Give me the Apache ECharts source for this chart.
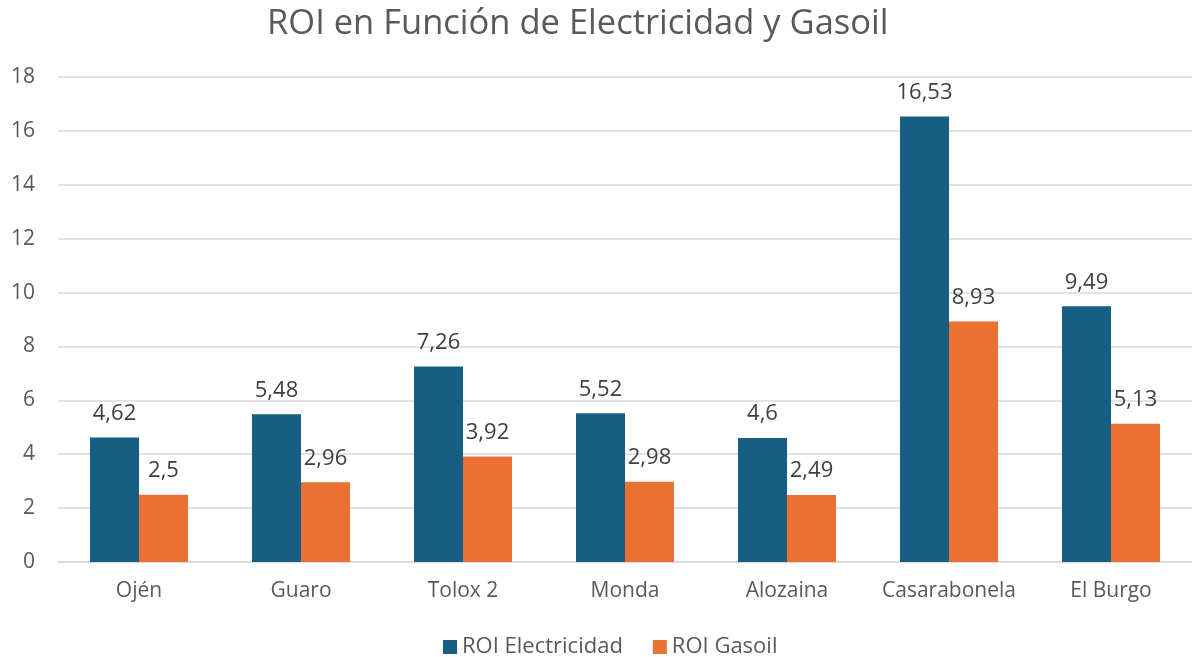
<!DOCTYPE html>
<html><head><meta charset="utf-8">
<script src="https://cdn.jsdelivr.net/npm/echarts@6/dist/echarts.min.js"></script>
<style>html,body{margin:0;padding:0;background:#fff}#c{width:1192px;height:657px}</style>
</head><body><div id="c"></div>
<script>
const categories = ['Ojén','Guaro','Tolox 2','Monda','Alozaina','Casarabonela','El Burgo'];
const roiElectricidad = [4.62,5.48,7.26,5.52,4.6,16.53,9.49];
const roiGasoil = [2.5,2.96,3.92,2.98,2.49,8.93,5.13];
const seriesNames = ['ROI Electricidad','ROI Gasoil'];
const FONT = '"Open Sans", "Noto Sans", sans-serif';
const fmt = v => String(v.value).replace('.', ',');
const chart = echarts.init(document.getElementById('c'));
chart.setOption({
  animation:false,
  textStyle:{fontFamily:FONT},
  title:{text:'ROI en Función de Electricidad y Gasoil',left:262,top:2,
    textStyle:{fontFamily:FONT,fontSize:34.5,fontWeight:'normal',color:'#595959'}},
  legend:{top:631,left:438,itemWidth:14,itemHeight:14,itemGap:30,icon:'rect',
    textStyle:{fontFamily:FONT,fontSize:22,color:'#595959'}},
  grid:{left:58,right:0,top:77,bottom:95,containLabel:false,outerBoundsMode:'none'},
  xAxis:{type:'category',data:categories,
    axisLine:{lineStyle:{color:'#d9d9d9',width:1.5}},axisTick:{show:false},
    axisLabel:{interval:0,fontFamily:FONT,fontSize:21,color:'#595959',margin:19}},
  yAxis:{type:'value',min:0,max:18,interval:2,
    axisLabel:{fontFamily:FONT,fontSize:21,color:'#595959',margin:23},
    splitLine:{lineStyle:{color:'#d9d9d9',width:1.5}}},
  series:[
    {name:seriesNames[0],type:'bar',data:roiElectricidad,barGap:'0%',barCategoryGap:'39.5%',
      itemStyle:{color:'#156082'},
      label:{show:true,position:'top',distance:13,formatter:fmt,fontFamily:FONT,fontSize:22,color:'#404040'}},
    {name:seriesNames[1],type:'bar',data:roiGasoil,
      itemStyle:{color:'#E97132'},
      label:{show:true,position:'top',distance:13,formatter:fmt,fontFamily:FONT,fontSize:22,color:'#404040'}}
  ]
});
</script></body></html>
